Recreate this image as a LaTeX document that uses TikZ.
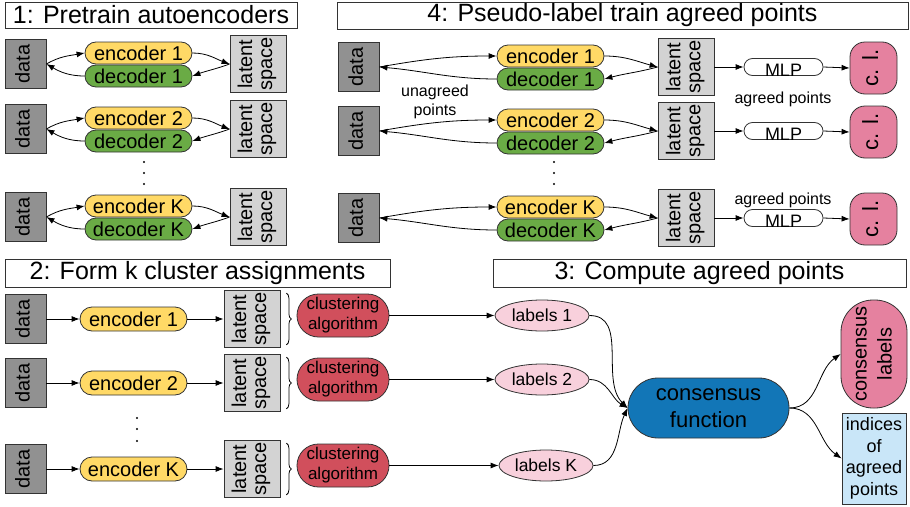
\documentclass[tikz,border=0pt]{standalone}
\usepackage{fontspec}
\setmainfont{Liberation Sans}
\usepackage{graphicx}
\usepackage{xcolor}
\usepackage{tikz}
\usetikzlibrary{arrows.meta,positioning,shapes.misc,shapes.geometric,decorations.pathreplacing}
\definecolor{datagray}{HTML}{919191}
\definecolor{latentgray}{HTML}{D3D3D3}
\definecolor{encyellow}{HTML}{FFD966}
\definecolor{decgreen}{HTML}{6AAB45}
\definecolor{clusterred}{HTML}{D14F5C}
\definecolor{labelpink}{HTML}{F8D0DC}
\definecolor{conspink}{HTML}{E5819F}
\definecolor{consblue}{HTML}{1276B7}
\definecolor{idxblue}{HTML}{C9E6F8}
\definecolor{edge}{HTML}{333333}
\newcommand{\fsz}[2]{\fontsize{#1}{#2}\selectfont}
\newcommand{\vlab}[1]{\rotatebox{90}{\begin{tabular}{@{}c@{}}#1\end{tabular}}}

\begin{document}
\begin{tikzpicture}[x=1pt,y=1pt,line width=0.8pt,
    every node/.style={draw=edge,inner sep=0pt},
    heading/.style={fill=white,font=\fsz{25}{25}},
    databox/.style={fill=datagray,minimum width=41pt,minimum height=49pt,font=\fsz{20}{20}},
    latent/.style={fill=latentgray,minimum width=56pt,minimum height=57pt,font=\fsz{20}{20}},
    coder/.style={rounded rectangle,minimum width=107pt,minimum height=22pt,font=\fsz{20}{20}},
    enc/.style={coder,fill=encyellow},
    dec/.style={coder,fill=decgreen},
    mlp/.style={rounded rectangle,fill=white,minimum width=79pt,minimum height=17pt,font=\fsz{18}{18},text height=13pt,text depth=0pt},
    cl/.style={rounded corners=15pt,fill=conspink,minimum width=47pt,minimum height=52pt,font=\fsz{22}{22}},
    algo/.style={rounded rectangle,fill=clusterred,minimum width=92pt,minimum height=43pt,align=center,font=\fsz{17}{20}},
    lab/.style={ellipse,fill=labelpink,minimum width=94pt,minimum height=31pt,font=\fsz{17.5}{20}},
    note/.style={draw=none,align=center,font=\fsz{16}{19}},
    arr/.style={-{Latex[length=8pt,width=6pt]}}]
\useasboundingbox (0,0) rectangle (910,-506);

% 1: pretraining
\node[heading,minimum width=292pt,minimum height=26pt] (t1) at (151,-15) {1: Pretrain autoencoders};
\foreach \i/\y/\k in {1/64/1,2/129/2,3/217/K} {
  \node[databox] (pd\i) at (25.5,-\y) {\vlab{data}};
  \node[enc] (pe\i) at (138.5,{11-\y}) {encoder \k};
  \node[dec] (pr\i) at (138.5,{-\y-12}) {decoder \k};
  \node[latent] (pz\i) at (258,-\y) {\vlab{latent\\space}};
  \draw[arr] (pd\i.east) to[out=30,in=190] (pe\i.west);
  \draw[arr] (pr\i.west) to[out=180,in=-30] (pd\i.east);
  \draw[arr] (pe\i.east) to[out=0,in=160] (pz\i.west);
  \draw[arr] (pz\i.west) to[out=200,in=20] (pr\i.east);
}
\foreach \yy in {162,173,184} \fill (144,-\yy) circle (1.1pt);

% 4: pseudo-label training
\node[heading,minimum width=571pt,minimum height=27pt] (t4) at (622.5,-15.5) {4: Pseudo-label train agreed points};
\foreach \i/\y/\k in {1/67/1,2/131/2,3/218/K} {
  \node[databox] (fd\i) at (358.5,-\y) {\vlab{data}};
  \node[enc] (fe\i) at (550.5,{11-\y}) {encoder \k};
  \node[dec] (fr\i) at (550.5,{-\y-12}) {decoder \k};
  \node[latent] (fz\i) at (686,-\y) {\vlab{latent\\space}};
  \node[mlp] (fm\i) at (783.5,-\y) {\raisebox{-3pt}{MLP}};
  \node[cl] (fc\i) at (873.5,{-\y-1}) {\vlab{c. l.}};
  \draw[arr] (fd\i.east) to[out=10,in=180] (fe\i.west);
  \draw[arr] (fr\i.west) to[out=180,in=-5] (fd\i.east);
  \draw[arr] (fe\i.east) to[out=0,in=165] (fz\i.west);
  \draw[arr] (fz\i.west) to[out=195,in=15] (fr\i.east);
  \draw[arr] (fz\i.east) -- (fm\i.west);
  \draw[arr] (fm\i.east) -- (fc\i.west);
}
\foreach \yy in {162,173,184} \fill (554,-\yy) circle (1.1pt);
\node[note] (unag) at (435,-101.5) {unagreed\\points};
\node[note] (ag1) at (783,-99) {agreed points};
\node[note] (ag3) at (783,-200) {agreed points};

% 2: cluster assignments
\node[heading,minimum width=385pt,minimum height=28pt] (t2) at (197.5,-273) {2: Form k cluster assignments};
\foreach \i/\y/\k/\lx in {1/319/1/542,2/383/2/542,3/469/K/546} {
  \node[databox] (cd\i) at (25.5,-\y) {\vlab{data}};
  \node[enc,minimum height=24pt] (ce\i) at (133.5,-\y) {encoder \k};
  \node[latent] (cz\i) at (252,-\y) {\vlab{latent\\space}};
  \node[algo] (ca\i) at (343,{3.5-\y}) {clustering\\algorithm};
  \node[lab] (cl\i) at (\lx,{3.5-\y}) {labels \k};
  \draw[arr] (cd\i.east) -- (ce\i.west);
  \draw[arr] (ce\i.east) -- (cz\i.west);
  \draw[decorate,decoration={brace,amplitude=5pt}] ([xshift=6pt,yshift=-3pt]cz\i.north east) -- ([xshift=6pt,yshift=3pt]cz\i.south east);
  \draw[arr] (ca\i.east) -- (cl\i.west);
}
\foreach \yy in {418,429,441} \fill (137,-\yy) circle (1.1pt);

% 3: agreed points
\node[heading,minimum width=413pt,minimum height=28pt] (t3) at (699.5,-273) {3: Compute agreed points};
\node[rounded rectangle,fill=consblue,minimum width=161pt,minimum height=60pt,align=center,font=\fsz{22}{26.5}] (cons) at (708.5,-408) {consensus\\function};
\node[rounded corners=32pt,fill=conspink,minimum width=66pt,minimum height=108pt,font=\fsz{20}{25}] (clab) at (874,-354) {\vlab{consensus\\labels}};
\node[fill=idxblue,minimum width=64pt,minimum height=91pt,align=center,font=\fsz{18}{21.5}] (idx) at (874,-458.5) {indices\\of\\agreed\\points};
\draw[arr] (cl1.east) to[out=0,in=135] (cons.west);
\draw[arr] (cl2.east) to[out=0,in=150] (cons.west);
\draw[arr] (cl3.east) to[out=0,in=-115] (cons.west);
\draw[arr] (cons.east) to[out=0,in=215] (clab.west);
\draw[arr] (cons.east) to[out=0,in=145] (idx.west);
\end{tikzpicture}
\end{document}
